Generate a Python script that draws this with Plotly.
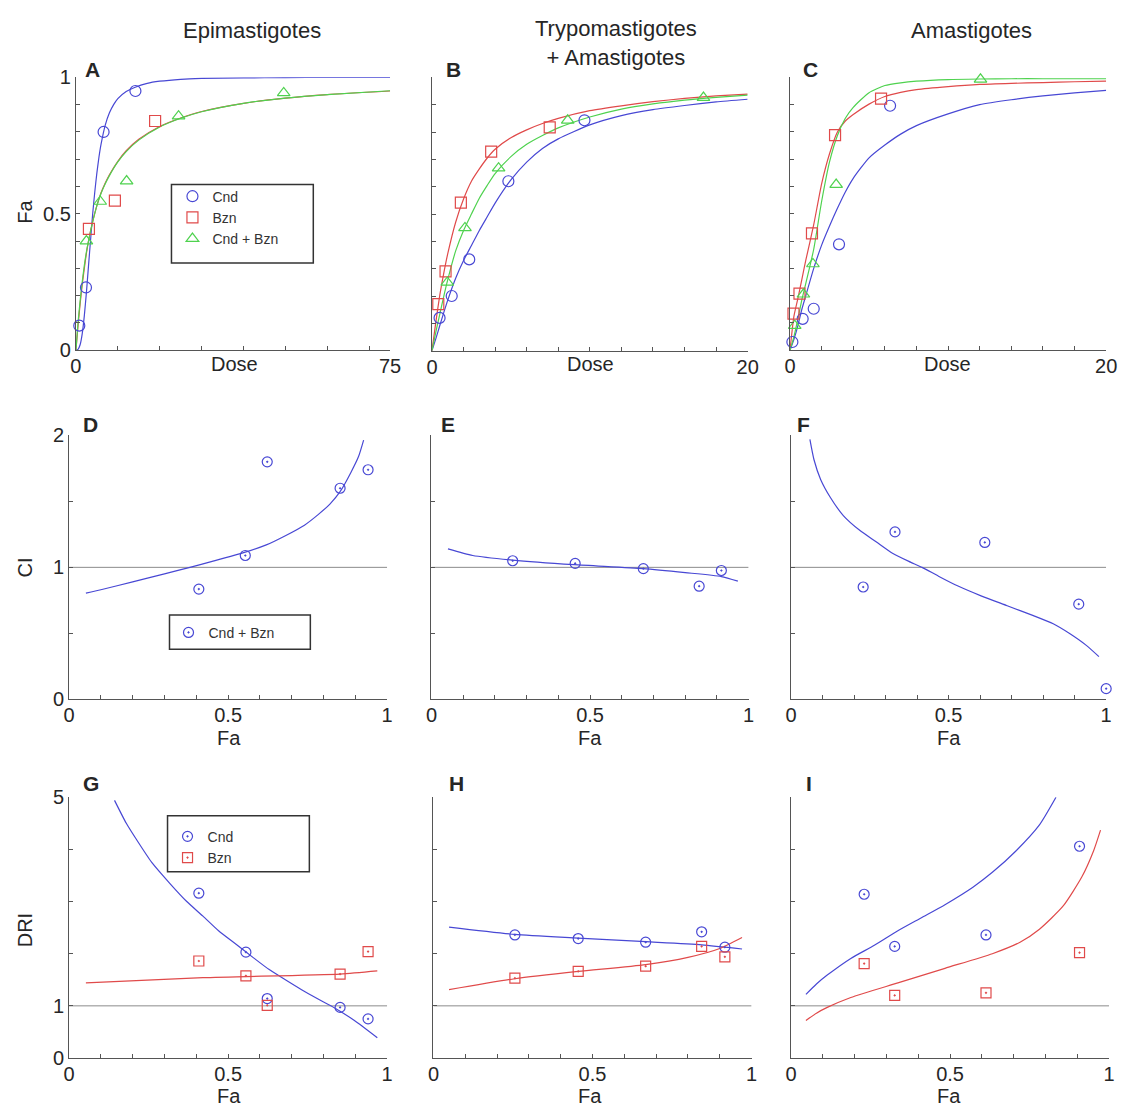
import plotly.graph_objects as go

W, H = 1128, 1119

# ------------------------------------------------------------------
# DATA
# ------------------------------------------------------------------
col_titles = ["Epimastigotes", "Trypomastigotes<br>+ Amastigotes", "Amastigotes"]
panel_letters = ["A", "B", "C", "D", "E", "F", "G", "H", "I"]
series_names = ["Cnd", "Bzn", "Cnd + Bzn"]

# --- Row 1: dose-effect (Fa vs Dose) ---
A_cnd_x = [0.8, 2.4, 6.6, 14.2]
A_cnd_y = [0.09, 0.23, 0.80, 0.95]
A_bzn_x = [3.1, 9.3, 18.9]
A_bzn_y = [0.445, 0.548, 0.84]
A_cb_x = [2.5, 5.8, 12.1, 24.5, 49.6]
A_cb_y = [0.40, 0.545, 0.62, 0.858, 0.943]

A_cnd_fit_x = [0, 0.5, 1, 1.5, 2, 2.5, 3, 3.5, 4, 4.5, 5, 5.5, 6, 7, 8, 9, 10, 12, 14, 17, 20, 25, 30, 40, 50, 60, 75]
A_cnd_fit_y = [0, 0.003, 0.02, 0.06, 0.126, 0.211, 0.309, 0.405, 0.5, 0.58, 0.65, 0.708, 0.755, 0.825, 0.87, 0.9, 0.922,
               0.948, 0.963, 0.978, 0.986, 0.993, 0.996, 0.998, 0.999, 1.0, 1.0]
A_cb_fit_x = [0, 0.5, 1, 1.5, 2, 2.5, 3, 4, 5, 6, 7, 8, 10, 12, 15, 20, 25, 30, 40, 50, 60, 75]
A_bzn_fit_y = [0, 0.09, 0.17, 0.24, 0.30, 0.355, 0.40, 0.472, 0.53, 0.577, 0.613, 0.643, 0.692, 0.731, 0.773, 0.82,
               0.851, 0.875, 0.905, 0.924, 0.937, 0.95]
A_cb_fit_y = [0, 0.10, 0.18, 0.25, 0.31, 0.36, 0.40, 0.47, 0.53, 0.575, 0.61, 0.64, 0.69, 0.728, 0.77, 0.818,
              0.85, 0.874, 0.905, 0.924, 0.937, 0.951]

B_cnd_x = [0.48, 1.25, 2.36, 4.84, 9.66]
B_cnd_y = [0.12, 0.20, 0.334, 0.62, 0.843]
B_bzn_x = [0.4, 0.86, 1.83, 3.75, 7.46]
B_bzn_y = [0.17, 0.29, 0.542, 0.728, 0.817]
B_cb_x = [0.97, 2.09, 4.22, 8.6, 17.2]
B_cb_y = [0.25, 0.449, 0.668, 0.843, 0.926]

BC_fit_x = [0, 0.25, 0.5, 0.75, 1, 1.5, 2, 2.5, 3, 3.5, 4, 5, 6, 7, 8, 10, 12, 14, 16, 18, 20]
B_cnd_fit_y = [0, 0.045, 0.093, 0.14, 0.185, 0.265, 0.33, 0.385, 0.44, 0.49, 0.54, 0.625, 0.69, 0.74, 0.775, 0.826,
               0.86, 0.882, 0.897, 0.91, 0.92]
B_bzn_fit_y = [0, 0.107, 0.205, 0.285, 0.355, 0.47, 0.555, 0.62, 0.665, 0.705, 0.737, 0.779, 0.808, 0.831, 0.85,
               0.878, 0.896, 0.911, 0.923, 0.932, 0.939]
B_cb_fit_y = [0, 0.07, 0.135, 0.2, 0.26, 0.365, 0.44, 0.5, 0.558, 0.605, 0.648, 0.71, 0.755, 0.787, 0.815, 0.855,
              0.884, 0.903, 0.917, 0.927, 0.935]

C_cnd_x = [0.15, 0.8, 1.5, 3.1, 6.33]
C_cnd_y = [0.03, 0.115, 0.152, 0.388, 0.896]
C_bzn_x = [0.22, 0.6, 1.39, 2.85, 5.76]
C_bzn_y = [0.134, 0.207, 0.428, 0.788, 0.922]
C_cb_x = [0.3, 0.85, 1.45, 2.92, 12.05]
C_cb_y = [0.09, 0.205, 0.316, 0.607, 0.993]

C_cnd_fit_y = [0, 0.04, 0.09, 0.15, 0.2, 0.3, 0.385, 0.455, 0.52, 0.58, 0.63, 0.705, 0.752, 0.792, 0.823, 0.866,
               0.9, 0.918, 0.932, 0.943, 0.952]
C_bzn_fit_y = [0, 0.125, 0.19, 0.26, 0.33, 0.46, 0.61, 0.72, 0.80, 0.84, 0.864, 0.902, 0.93, 0.945, 0.955, 0.966,
               0.974, 0.978, 0.981, 0.984, 0.986]
C_cb_fit_y = [0, 0.05, 0.115, 0.185, 0.245, 0.37, 0.545, 0.69, 0.787, 0.85, 0.89, 0.944, 0.97, 0.98, 0.986, 0.992,
              0.994, 0.995, 0.995, 0.995, 0.995]

# --- Row 2: combination index (CI vs Fa) ---
D_fa = [0.408, 0.554, 0.623, 0.852, 0.94]
D_ci = [0.835, 1.09, 1.80, 1.60, 1.74]
D_fit_fa = [0.053, 0.1, 0.2, 0.3, 0.38, 0.45, 0.554, 0.62, 0.68, 0.74, 0.783, 0.82, 0.852, 0.886, 0.91, 0.926]
D_fit_ci = [0.805, 0.83, 0.89, 0.95, 1.0, 1.045, 1.115, 1.17, 1.24, 1.32, 1.40, 1.48, 1.574, 1.72, 1.84, 1.965]

E_fa = [0.256, 0.453, 0.668, 0.844, 0.914]
E_ci = [1.05, 1.03, 0.99, 0.857, 0.976]
E_fit_fa = [0.052, 0.13, 0.256, 0.45, 0.668, 0.8, 0.914, 0.966]
E_fit_ci = [1.14, 1.09, 1.055, 1.02, 0.99, 0.96, 0.93, 0.895]

F_fa = [0.229, 0.33, 0.615, 0.913, 1.0]
F_ci = [0.851, 1.269, 1.189, 0.721, 0.08]
F_fit_fa = [0.06, 0.073, 0.094, 0.125, 0.166, 0.218, 0.27, 0.322, 0.374, 0.416, 0.468, 0.53, 0.603, 0.686, 0.769,
            0.832, 0.884, 0.936, 0.977]
F_fit_ci = [1.97, 1.816, 1.667, 1.53, 1.393, 1.281, 1.194, 1.107, 1.045, 1.0, 0.933, 0.858, 0.784, 0.709, 0.634,
            0.572, 0.498, 0.41, 0.323]

# --- Row 3: dose reduction index (DRI vs Fa) ---
G_fa = [0.408, 0.556, 0.623, 0.852, 0.94]
G_dri_cnd = [3.16, 2.03, 1.14, 0.97, 0.75]
G_dri_bzn = [1.86, 1.575, 1.01, 1.61, 2.04]
G_cnd_fit_fa = [0.143, 0.18, 0.215, 0.26, 0.318, 0.37, 0.421, 0.47, 0.525, 0.58, 0.628, 0.68, 0.731, 0.78, 0.835,
                0.897, 0.969]
G_cnd_fit_dri = [4.94, 4.5, 4.16, 3.75, 3.34, 3.0, 2.72, 2.44, 2.18, 1.92, 1.70, 1.50, 1.31, 1.14, 0.96, 0.72, 0.39]
G_bzn_fit_fa = [0.053, 0.421, 0.852, 0.969]
G_bzn_fit_dri = [1.44, 1.54, 1.61, 1.67]

H_fa = [0.256, 0.455, 0.667, 0.843, 0.916]
H_dri_cnd = [2.36, 2.29, 2.22, 2.42, 2.125]
H_dri_bzn = [1.53, 1.66, 1.76, 2.14, 1.94]
H_cnd_fit_fa = [0.049, 0.256, 0.455, 0.667, 0.843, 0.97]
H_cnd_fit_dri = [2.51, 2.37, 2.3, 2.23, 2.17, 2.09]
H_bzn_fit_fa = [0.049, 0.256, 0.455, 0.667, 0.8, 0.9, 0.97]
H_bzn_fit_dri = [1.31, 1.52, 1.66, 1.79, 1.93, 2.1, 2.31]

I_fa = [0.23, 0.326, 0.613, 0.907]
I_dri_cnd = [3.14, 2.14, 2.36, 4.06]
I_dri_bzn = [1.81, 1.2, 1.25, 2.02]
I_cnd_fit_fa = [0.047, 0.08, 0.114, 0.188, 0.262, 0.336, 0.41, 0.484, 0.573, 0.633, 0.707, 0.781, 0.833]
I_cnd_fit_dri = [1.22, 1.42, 1.59, 1.91, 2.16, 2.44, 2.69, 2.94, 3.28, 3.56, 3.97, 4.47, 5.0]
I_bzn_fit_fa = [0.047, 0.08, 0.114, 0.188, 0.336, 0.484, 0.633, 0.72, 0.781, 0.855, 0.914, 0.951, 0.973]
I_bzn_fit_dri = [0.72, 0.86, 0.97, 1.16, 1.44, 1.72, 2.0, 2.22, 2.47, 2.91, 3.47, 3.97, 4.37]

# ------------------------------------------------------------------
# STYLE
# ------------------------------------------------------------------
BLUE = "#4848d4"
RED = "#e04a4a"
GREEN = "#4fd24f"
GRAY = "#8c8c8c"
AXC = "#555555"
TXT = "#262626"
FONT = "Liberation Sans, Arial, sans-serif"
TICKF = 20

# pixel boxes: x_left, x_right, y_top, y_bottom
boxes = [
    (71, 390, 67.7, 346), (432.5, 753, 67.7, 346.5), (796, 1117, 67.7, 346),
    (64, 387, 433, 702), (432, 754, 433, 702), (797, 1117, 433, 702),
    (64, 387, 802, 1068), (434, 757, 802, 1068), (797, 1120, 802, 1068),
]

fig = go.Figure()


def ax(i):
    return ("x" if i == 0 else "x%d" % (i + 1)), ("y" if i == 0 else "y%d" % (i + 1))


def add_line(i, xs, ys, color):
    xa, ya = ax(i)
    fig.add_trace(go.Scatter(x=xs, y=ys, mode="lines", line=dict(color=color, width=1.2, shape="spline", smoothing=0.6),
                             xaxis=xa, yaxis=ya, showlegend=False, hoverinfo="skip", cliponaxis=False))


def add_pts(i, xs, ys, color, symbol, name, legend=None, size=10):
    xa, ya = ax(i)
    fig.add_trace(go.Scatter(x=xs, y=ys, mode="markers", name=name,
                             marker=dict(symbol=symbol, size=size, color=color, line=dict(color=color, width=1.2)),
                             xaxis=xa, yaxis=ya, showlegend=legend is not None,
                             legend=legend if legend else "legend", cliponaxis=False))


# Row 1
add_line(0, A_cnd_fit_x, A_cnd_fit_y, BLUE)
add_line(0, A_cb_fit_x, A_bzn_fit_y, RED)
add_line(0, A_cb_fit_x, A_cb_fit_y, GREEN)
add_pts(0, A_cnd_x, A_cnd_y, BLUE, "circle-open", series_names[0], "legend", 11)
add_pts(0, A_bzn_x, A_bzn_y, RED, "square-open", series_names[1], "legend", 11)
add_pts(0, A_cb_x, A_cb_y, GREEN, "triangle-up-open", series_names[2], "legend", 11)

add_line(1, BC_fit_x, B_cnd_fit_y, BLUE)
add_line(1, BC_fit_x, B_bzn_fit_y, RED)
add_line(1, BC_fit_x, B_cb_fit_y, GREEN)
add_pts(1, B_cnd_x, B_cnd_y, BLUE, "circle-open", series_names[0], None, 11)
add_pts(1, B_bzn_x, B_bzn_y, RED, "square-open", series_names[1], None, 11)
add_pts(1, B_cb_x, B_cb_y, GREEN, "triangle-up-open", series_names[2], None, 11)

add_line(2, BC_fit_x, C_cnd_fit_y, BLUE)
add_line(2, BC_fit_x, C_bzn_fit_y, RED)
add_line(2, BC_fit_x, C_cb_fit_y, GREEN)
add_pts(2, C_cnd_x, C_cnd_y, BLUE, "circle-open", series_names[0], None, 11)
add_pts(2, C_bzn_x, C_bzn_y, RED, "square-open", series_names[1], None, 11)
add_pts(2, C_cb_x, C_cb_y, GREEN, "triangle-up-open", series_names[2], None, 11)

# Row 2
add_line(3, D_fit_fa, D_fit_ci, BLUE)
add_pts(3, D_fa, D_ci, BLUE, "circle-open-dot", series_names[2], "legend2")
add_line(4, E_fit_fa, E_fit_ci, BLUE)
add_pts(4, E_fa, E_ci, BLUE, "circle-open-dot", series_names[2])
add_line(5, F_fit_fa, F_fit_ci, BLUE)
add_pts(5, F_fa, F_ci, BLUE, "circle-open-dot", series_names[2])

# Row 3
add_line(6, G_cnd_fit_fa, G_cnd_fit_dri, BLUE)
add_line(6, G_bzn_fit_fa, G_bzn_fit_dri, RED)
add_pts(6, G_fa, G_dri_cnd, BLUE, "circle-open-dot", series_names[0], "legend3")
add_pts(6, G_fa, G_dri_bzn, RED, "square-open-dot", series_names[1], "legend3")
add_line(7, H_cnd_fit_fa, H_cnd_fit_dri, BLUE)
add_line(7, H_bzn_fit_fa, H_bzn_fit_dri, RED)
add_pts(7, H_fa, H_dri_cnd, BLUE, "circle-open-dot", series_names[0])
add_pts(7, H_fa, H_dri_bzn, RED, "square-open-dot", series_names[1])
add_line(8, I_cnd_fit_fa, I_cnd_fit_dri, BLUE)
add_line(8, I_bzn_fit_fa, I_bzn_fit_dri, RED)
add_pts(8, I_fa, I_dri_cnd, BLUE, "circle-open-dot", series_names[0])
add_pts(8, I_fa, I_dri_bzn, RED, "square-open-dot", series_names[1])

# ------------------------------------------------------------------
# AXES
# ------------------------------------------------------------------
fa_ticks = [round(0.1 * k, 1) for k in range(11)]
fa_text = ["0", "", "", "", "", "0.5", "", "", "", "", "1"]
dose75_ticks = [0, 10, 20, 30, 40, 50, 60, 70, 75]
dose75_text = ["0", "", "", "", "", "", "", "", "75"]
dose20_ticks = list(range(0, 21, 2))
dose20_text = ["0"] + [""] * 9 + ["20"]
ci_ticks = [0, 0.5, 1, 1.5, 2]
ci_text = ["0", "", "1", "", "2"]
dri_ticks = [0, 1, 2, 3, 4, 5]
dri_text = ["0", "1", "", "", "", "5"]

xcfg = [
    ([0, 75], dose75_ticks, dose75_text), ([0, 20], dose20_ticks, dose20_text), ([0, 20], dose20_ticks, dose20_text),
    ([0, 1], fa_ticks, fa_text), ([0, 1], fa_ticks, fa_text), ([0, 1], fa_ticks, fa_text),
    ([0, 1], fa_ticks, fa_text), ([0, 1], fa_ticks, fa_text), ([0, 1], fa_ticks, fa_text),
]
ycfg = [
    ([0, 1], fa_ticks, fa_text), ([0, 1], fa_ticks, [""] * 11), ([0, 1], fa_ticks, [""] * 11),
    ([0, 2], ci_ticks, ci_text), ([0, 2], ci_ticks, [""] * 5), ([0, 2], ci_ticks, [""] * 5),
    ([0, 5], dri_ticks, dri_text), ([0, 5], dri_ticks, [""] * 6), ([0, 5], dri_ticks, [""] * 6),
]

common = dict(showline=True, linecolor=AXC, linewidth=1, ticks="inside", ticklen=4, tickcolor=AXC,
              tickwidth=1, showgrid=False, zeroline=False, mirror=False, fixedrange=True,
              tickfont=dict(size=TICKF, family=FONT, color=TXT), tickmode="array")

layout_axes = {}
for i, (x0, x1, yt, yb) in enumerate(boxes):
    xa, ya = ax(i)
    xname = "xaxis" if i == 0 else "xaxis%d" % (i + 1)
    yname = "yaxis" if i == 0 else "yaxis%d" % (i + 1)
    xr, xt, xtt = xcfg[i]
    yr, yt_, ytt = ycfg[i]
    layout_axes[xname] = dict(common, domain=[x0 / W, x1 / W], anchor=ya, range=xr, tickvals=xt, ticktext=xtt,
                              ticklabelstandoff=-2)
    layout_axes[yname] = dict(common, domain=[1 - yb / H, 1 - yt / H], anchor=xa, range=yr, tickvals=yt_, ticktext=ytt)

fig.update_layout(**layout_axes)

# reference lines at 1 (CI and DRI)
shapes = []
for i in range(3, 9):
    xa, ya = ax(i)
    shapes.append(dict(type="line", xref=xa, yref=ya, x0=0, x1=1, y0=1, y1=1, line=dict(color=GRAY, width=1),
                       layer="below"))

# legend boxes (pixel boxes)
legend_boxes = [(168, 177, 312, 257), (166, 616, 309, 651), (164, 821, 308, 878)]
for (bx0, by0, bx1, by1) in legend_boxes:
    shapes.append(dict(type="rect", xref="paper", yref="paper", x0=bx0 / W, x1=bx1 / W, y0=1 - by1 / H,
                       y1=1 - by0 / H, line=dict(color="#333333", width=1.5), fillcolor="rgba(0,0,0,0)"))
fig.update_layout(shapes=shapes)

legend_common = dict(xanchor="left", yanchor="top", bgcolor="rgba(0,0,0,0)", borderwidth=0,
                     font=dict(size=14, family=FONT, color="#333333"), tracegroupgap=0, itemclick=False)
fig.update_layout(
    legend=dict(legend_common, x=169 / W, y=1 - 173 / H),
    legend2=dict(legend_common, x=165 / W, y=1 - 618 / H),
    legend3=dict(legend_common, x=164 / W, y=1 - 826 / H),
)

# ------------------------------------------------------------------
# TEXT
# ------------------------------------------------------------------
ann = []


def text(px, py, s, size=TICKF, bold=False, angle=0):
    ann.append(dict(x=px / W, y=1 - py / H, xref="paper", yref="paper", text=("<b>%s</b>" % s) if bold else s,
                    showarrow=False, xanchor="center", yanchor="middle", textangle=angle,
                    font=dict(size=size, family=FONT, color=TXT)))


text(250, 20, col_titles[0], 22)
text(619, 33, col_titles[1], 22)
text(980, 20, col_titles[2], 22)

letter_pos = [(88, 60), (454, 60), (817, 60), (86, 422), (449, 422), (810, 422), (86, 788), (457, 788), (815, 788)]
for (lx, ly), s in zip(letter_pos, panel_letters):
    text(lx, ly, s, 21, bold=True)

for cx in (232, 593, 956):
    text(cx, 360, "Dose", TICKF)
for cx in (226, 593, 957):
    text(cx, 742, "Fa", TICKF)
    text(cx, 1107, "Fa", TICKF)

text(19, 205, "Fa", TICKF, angle=-90)
text(19, 568, "CI", TICKF, angle=-90)
text(19, 938, "DRI", TICKF, angle=-90)

fig.update_layout(annotations=ann)

fig.update_layout(width=W, height=H, margin=dict(l=0, r=0, t=0, b=0), paper_bgcolor="white",
                  plot_bgcolor="white", font=dict(family=FONT, color=TXT))

fig.write_html("out.html",
               post_script="document.body.style.margin='0px';document.body.style.padding='0px';"
                           "document.documentElement.style.overflow='hidden';")
